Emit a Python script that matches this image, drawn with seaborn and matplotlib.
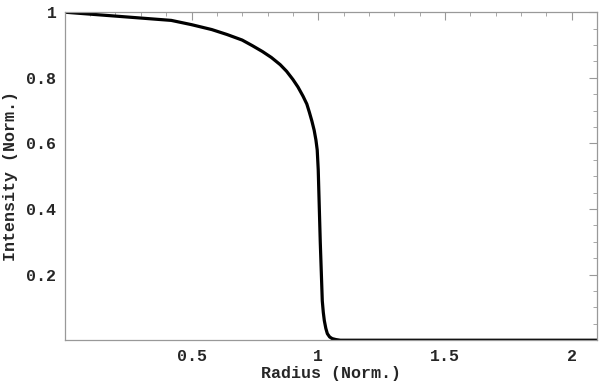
import pandas as pd
import matplotlib.pyplot as plt
import seaborn as sns
from matplotlib.ticker import MultipleLocator

# Normalized intensity profile
radius = [0.0, 0.42, 0.5, 0.58, 0.64, 0.70, 0.74, 0.78, 0.815, 0.85, 0.875, 0.90,
          0.92, 0.94, 0.955, 0.965, 0.975, 0.984, 0.991, 0.996, 1.0, 1.004,
          1.008, 1.012, 1.016, 1.02, 1.024, 1.03, 1.036, 1.045, 1.055, 1.07,
          1.087, 1.5, 2.1]
intensity = [1.0, 0.975, 0.962, 0.947, 0.932, 0.915, 0.898, 0.88, 0.862, 0.84,
             0.82, 0.795, 0.772, 0.744, 0.72, 0.695, 0.668, 0.64, 0.61, 0.58,
             0.52, 0.41, 0.30, 0.21, 0.12, 0.085, 0.06, 0.036, 0.02, 0.01,
             0.005, 0.002, 0.0, 0.0, 0.0]

x_ticks = [0.5, 1, 1.5, 2]
x_labels = ['0.5', '1', '1.5', '2']
y_ticks = [0.2, 0.4, 0.6, 0.8, 1]
y_labels = ['0.2', '0.4', '0.6', '0.8', '1']

df = pd.DataFrame({'Radius': radius, 'Intensity': intensity})

sns.set_style('white')
plt.rcParams['font.family'] = ['Liberation Mono', 'DejaVu Sans Mono']
plt.rcParams['font.weight'] = 'bold'

fig, ax = plt.subplots(figsize=(6, 3.81), dpi=100)
sns.lineplot(data=df, x='Radius', y='Intensity', color='black', linewidth=2.3, ax=ax)
ax.lines[0].set_solid_joinstyle('round')

ax.set_xlim(0, 2.1)
ax.set_ylim(0, 1)
ax.set_xticks(x_ticks)
ax.set_xticklabels(x_labels)
ax.set_yticks(y_ticks)
ax.set_yticklabels(y_labels)
ax.xaxis.set_minor_locator(MultipleLocator(0.1))
ax.yaxis.set_minor_locator(MultipleLocator(0.05))
ax.tick_params(which='both', direction='in', color='#999999', top=True, right=True,
               labelsize=12, pad=6)
ax.tick_params(which='major', length=6, width=0.8)
ax.tick_params(which='minor', length=3, width=0.6)
for s in ax.spines.values():
    s.set_color('#999999')
    s.set_linewidth(0.9)

ax.set_xlabel('Radius (Norm.)', fontsize=12, fontweight='bold', labelpad=2)
ax.set_ylabel('Intensity (Norm.)', fontsize=12, fontweight='bold', labelpad=6)

fig.subplots_adjust(left=0.108, right=0.995, top=0.968, bottom=0.107)
fig.savefig('out.png', dpi=100)
